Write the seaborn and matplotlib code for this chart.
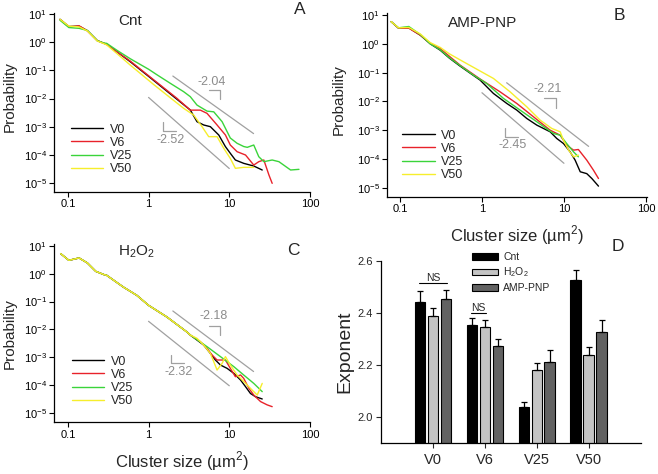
import numpy as np
import pandas as pd
import matplotlib
matplotlib.use("Agg")
import matplotlib.pyplot as plt
from matplotlib.patches import Patch
from matplotlib.ticker import NullLocator
from matplotlib.container import BarContainer
import seaborn as sns

sns.set_style("ticks")
plt.rcParams['font.family'] = ['Liberation Sans', 'DejaVu Sans']
plt.rcParams['axes.unicode_minus'] = False

# ------------------------------------------------------------------ data
series = ["V0", "V6", "V25", "V50"]

# Panel A : Cnt
a_v0_x = [0.080, 0.103, 0.138, 0.175, 0.232, 0.281, 0.303, 0.404, 0.592, 1.05, 2.05, 3.29, 3.98, 4.82, 5.83, 7.41, 8.96, 10.3, 11.9, 15.1, 20.1, 25.6]
a_v0_y = [6.5, 3.6, 3.7, 2.56, 1.13, 0.91, 0.84, 0.46, 0.204, 0.055, 0.0117, 0.00394, 0.00152, 0.00116, 0.00101, 0.000512, 0.000198, 0.000115, 6.65e-5, 5.06e-5, 4.07e-5, 2.94e-5]
a_v6_x = [0.080, 0.103, 0.138, 0.175, 0.232, 0.281, 0.303, 0.404, 0.592, 1.05, 2.25, 3.29, 4.38, 5.30, 7.06, 8.96, 10.3, 12.5, 15.9, 20.1, 23.2, 26.8, 31.0, 34.0]
a_v6_y = [6.3, 3.5, 3.8, 2.5, 1.13, 0.91, 0.84, 0.46, 0.215, 0.058, 0.0102, 0.0039, 0.0039, 0.0030, 0.00116, 0.000512, 0.000226, 0.000131, 0.0001, 4.4e-5, 5.8e-5, 6.65e-5, 1.95e-5, 9.9e-6]
a_v25_x = [0.080, 0.103, 0.138, 0.175, 0.232, 0.281, 0.303, 0.404, 0.592, 1.0, 1.27, 1.86, 2.72, 3.29, 3.98, 5.30, 6.42, 8.15, 10.3, 12.5, 15.1, 16.7, 20.1, 23.2, 26.8, 34.0, 41.2, 57.5, 73.0]
a_v25_y = [6.0, 3.3, 3.1, 2.6, 1.13, 0.93, 0.91, 0.52, 0.26, 0.11, 0.07, 0.0348, 0.0176, 0.0117, 0.0059, 0.0036, 0.0034, 0.00152, 0.0004, 0.00026, 0.0002, 0.000187, 0.000226, 8.7e-5, 5.8e-5, 6.65e-5, 5.8e-5, 2.94e-5, 3.1e-5]
a_v50_x = [0.080, 0.103, 0.138, 0.175, 0.232, 0.281, 0.303, 0.404, 0.592, 1.15, 1.86, 2.72, 3.62, 4.60, 5.56, 7.06, 8.55, 10.3, 11.9, 15.1, 20.1]
a_v50_y = [6.5, 3.7, 3.5, 2.5, 1.1, 0.88, 0.80, 0.40, 0.155, 0.032, 0.0107, 0.00452, 0.00262, 0.00101, 0.000447, 0.000447, 0.000172, 7.6e-5, 3.37e-5, 3.65e-5, 3.65e-5]

# Panel B : AMP-PNP
b_v0_x = [0.078, 0.096, 0.128, 0.177, 0.234, 0.31, 0.40, 0.54, 0.949, 1.38, 2.01, 2.66, 3.52, 4.67, 6.79, 8.18, 9.87, 11.9, 13.7, 15.8, 19.0, 21.9, 26.4]
b_v0_y = [5.9, 3.5, 3.6, 2.0, 1.0, 0.6, 0.32, 0.169, 0.055, 0.0189, 0.00849, 0.00499, 0.00256, 0.0015, 0.00088, 0.000515, 0.000345, 0.000177, 9.1e-5, 3.6e-5, 3.1e-5, 2.1e-5, 1.14e-5]
b_v6_x = [0.078, 0.096, 0.128, 0.177, 0.234, 0.31, 0.40, 0.54, 0.949, 1.66, 2.66, 4.25, 6.79, 9.0, 10.8, 13.1, 15.0, 19.0, 22.9, 26.4]
b_v6_y = [5.9, 3.5, 3.5, 2.0, 1.05, 0.68, 0.37, 0.183, 0.06, 0.0216, 0.00849, 0.00292, 0.001, 0.00067, 0.000302, 0.000203, 0.000214, 9.1e-5, 4.1e-5, 2.1e-5]
b_v25_x = [0.078, 0.096, 0.128, 0.177, 0.234, 0.31, 0.40, 0.55, 0.787, 1.14, 1.83, 2.92, 4.67, 7.45, 9.0, 10.8, 13.1, 15.0]
b_v25_y = [5.9, 3.6, 4.0, 2.1, 1.0, 0.62, 0.33, 0.17, 0.082, 0.0421, 0.0127, 0.00499, 0.00196, 0.00077, 0.00067, 0.000345, 0.000177, 0.000119]
b_v50_x = [0.078, 0.096, 0.128, 0.177, 0.234, 0.31, 0.40, 0.593, 1.38, 2.20, 3.52, 5.12, 7.11, 9.0, 9.87, 11.4, 13.1, 15.0]
b_v50_y = [5.9, 3.6, 3.7, 2.2, 1.1, 0.75, 0.45, 0.239, 0.0628, 0.0216, 0.00651, 0.00224, 0.00115, 0.00088, 0.00045, 0.000203, 0.000119, 0.000136]

# Panel C : H2O2
c_common_x = [0.0815, 0.103, 0.138, 0.175, 0.222, 0.281, 0.303, 0.489, 0.716, 1.0, 1.69, 2.99, 3.29]
c_common_y = [5.3, 3.05, 3.7, 2.44, 1.22, 0.93, 0.88, 0.33, 0.167, 0.073, 0.0277, 0.008, 0.0062]
c_v0_x = c_common_x + [4.82, 5.83, 6.73, 7.77, 9.40, 11.4, 13.8, 15.9, 18.3, 21.1, 25.6]
c_v0_y = c_common_y + [0.00272, 0.00136, 0.000784, 0.000518, 0.000393, 0.000259, 0.000149, 8.6e-5, 4.9e-5, 3.75e-5, 3.1e-5]
c_v6_x = c_common_x + [4.38, 5.30, 6.12, 7.06, 8.96, 10.3, 11.9, 13.8, 15.1, 17.5, 20.1, 24.4, 29.5, 34.0]
c_v6_y = c_common_y + [0.00359, 0.00207, 0.00119, 0.000784, 0.000784, 0.000393, 0.000197, 0.000226, 0.000171, 7.5e-5, 4.3e-5, 2.5e-5, 1.9e-5, 1.64e-5]
c_v25_x = c_common_x + [5.30, 7.77, 11.4, 15.1, 20.1, 25.6]
c_v25_y = c_common_y + [0.00237, 0.00104, 0.000451, 0.000226, 0.000113, 5.7e-5]
c_v50_x = c_common_x + [3.98, 4.82, 5.83, 6.42, 7.06, 8.15, 8.96, 10.3, 12.5, 15.9, 19.2, 22.2, 25.6]
c_v50_y = c_common_y + [0.00473, 0.00272, 0.00136, 0.000683, 0.000342, 0.000594, 0.00104, 0.000518, 0.000226, 0.000113, 6.5e-5, 4.3e-5, 0.000113]

# fitted power-law guide lines: slope, x start, y at start, x end
a_fit_slope = [-2.04, -2.52]
a_fit_x0 = [2.0, 1.0]
a_fit_y0 = [0.063, 0.011]
a_fit_x1 = [20.0, 10.0]
b_fit_slope = [-2.21, -2.45]
b_fit_x0 = [2.0, 1.0]
b_fit_y0 = [0.0445, 0.020]
b_fit_x1 = [20.0, 10.0]
c_fit_slope = [-2.18, -2.32]
c_fit_x0 = [2.0, 1.0]
c_fit_y0 = [0.0457, 0.0194]
c_fit_x1 = [20.0, 10.0]

# Panel D : exponents
groups = ["V0", "V6", "V25", "V50"]
conds = ["Cnt", "H2O2", "AMP-PNP"]
cnt_mean = [2.442, 2.353, 2.037, 2.526]
cnt_err = [0.041, 0.026, 0.019, 0.038]
h2o2_mean = [2.387, 2.346, 2.179, 2.237]
h2o2_err = [0.031, 0.026, 0.029, 0.032]
amp_mean = [2.453, 2.272, 2.212, 2.327]
amp_err = [0.034, 0.029, 0.044, 0.045]

# ------------------------------------------------------------------ style
line_colors = ["#000000", "#e8222a", "#3ad43a", "#f6ee2c"]
bar_colors = ["#000000", "#c4c4c4", "#626262"]
guide_gray = "#a0a0a0"
label_gray = "#8c8c8c"

W, H = 658, 474
fig = plt.figure(figsize=(W / 100, H / 100), dpi=100)


def rect(l, t, r, b):
    return [l / W, 1 - b / H, (r - l) / W, (b - t) / H]


axA = fig.add_axes(rect(54.3, 12.7, 310, 191.7))
axB = fig.add_axes(rect(387.3, 13.3, 647.3, 196.7))
axC = fig.add_axes(rect(54.3, 244.3, 310, 422))
axD = fig.add_axes(rect(380.7, 261, 641, 443))


def bracket(ax, xc, yc, kind):
    if kind == "upper":
        xs = [xc / 10 ** 0.14, xc, xc]
        ys = [yc, yc, yc / 10 ** 0.33]
    else:
        xs = [xc, xc, xc * 10 ** 0.16]
        ys = [yc * 10 ** 0.29, yc, yc]
    ax.plot(xs, ys, color=guide_gray, lw=0.9)


def line_panel(ax, xs_list, ys_list, slopes, x0s, y0s, x1s, lab_xy, corners,
               xlim, ylim, leg_anchor):
    frames = []
    for name, xs, ys in zip(series, xs_list, ys_list):
        frames.append(pd.DataFrame({"x": xs, "y": ys, "series": name}))
    df = pd.concat(frames, ignore_index=True)
    sns.lineplot(data=df, x="x", y="y", hue="series", hue_order=series,
                 palette=line_colors, sort=False, estimator=None, lw=1.0, ax=ax)
    for s, x0, y0, x1 in zip(slopes, x0s, y0s, x1s):
        xs = np.array([x0, x1])
        ax.plot(xs, y0 * (xs / x0) ** s, color=guide_gray, lw=0.9)
    for s, (tx, ty) in zip(slopes, lab_xy):
        ax.text(tx, ty, f"{s:.2f}", color=label_gray, fontsize=9,
                ha="center", va="center")
    bracket(ax, corners[0][0], corners[0][1], "upper")
    bracket(ax, corners[1][0], corners[1][1], "lower")
    ax.set_xscale("log")
    ax.set_yscale("log")
    ax.set_xlim(*xlim)
    ax.set_ylim(*ylim)
    ax.set_xticks([0.1, 1, 10, 100])
    ax.set_xticklabels(["0.1", "1", "10", "100"])
    ax.set_yticks([10.0 ** k for k in range(-5, 2)])
    ax.xaxis.set_minor_locator(NullLocator())
    ax.yaxis.set_minor_locator(NullLocator())
    ax.tick_params(axis="both", which="major", length=3.5, width=0.8,
                   labelsize=8, pad=2, colors="black")
    for sp in ["left", "bottom"]:
        ax.spines[sp].set_linewidth(0.9)
        ax.spines[sp].set_color("black")
    sns.despine(ax=ax)
    ax.set_xlabel("")
    ax.set_ylabel("Probability", fontsize=11)
    h, l = ax.get_legend_handles_labels()
    ax.legend(h, l, loc="upper left", bbox_to_anchor=leg_anchor, frameon=False,
              fontsize=9, handlelength=2.6, handletextpad=0.5, labelspacing=0.1,
              borderpad=0, borderaxespad=0)


line_panel(axA, [a_v0_x, a_v6_x, a_v25_x, a_v50_x], [a_v0_y, a_v6_y, a_v25_y, a_v50_y],
           a_fit_slope, a_fit_x0, a_fit_y0, a_fit_x1,
           [(6.1, 0.040), (1.89, 0.00034)], [(7.77, 0.0202), (1.53, 0.00073)],
           (0.068, 100), (5.0e-6, 11.1), (0.065, 0.381))
line_panel(axB, [b_v0_x, b_v6_x, b_v25_x, b_v50_x], [b_v0_y, b_v6_y, b_v25_y, b_v50_y],
           b_fit_slope, b_fit_x0, b_fit_y0, b_fit_x1,
           [(6.3, 0.0263), (2.35, 0.0003)], [(7.96, 0.0127), (1.90, 0.00059)],
           (0.07, 104), (4.9e-6, 11.5), (0.058, 0.366))
line_panel(axC, [c_v0_x, c_v6_x, c_v25_x, c_v50_x], [c_v0_y, c_v6_y, c_v25_y, c_v50_y],
           c_fit_slope, c_fit_x0, c_fit_y0, c_fit_x1,
           [(6.4, 0.0295), (2.36, 0.00029)], [(7.77, 0.0128), (1.89, 0.00063)],
           (0.068, 100), (4.6e-6, 11.5), (0.068, 0.374))

xlab = "Cluster size (\u00b5m$^{\\mathdefault{2}}$)"
axB.set_xlabel(xlab, fontsize=12)
axC.set_xlabel(xlab, fontsize=12)
axA.yaxis.set_label_coords(-0.146, 0.53)
axB.yaxis.set_label_coords(-0.159, 0.527)
axC.yaxis.set_label_coords(-0.146, 0.497)
axB.xaxis.set_label_coords(0.5, -0.143)
axC.xaxis.set_label_coords(0.498, -0.152)

# ------------------------------------------------------------------ panel D
df_bar = pd.DataFrame({
    "group": groups * 3,
    "cond": [c for c in conds for _ in groups],
    "value": cnt_mean + h2o2_mean + amp_mean,
})
sns.barplot(data=df_bar, x="group", y="value", hue="cond", order=groups,
             hue_order=conds, palette=bar_colors, width=0.75, gap=0.22,
             edgecolor="black", linewidth=0.8, errorbar=None, legend=False, ax=axD)
bar_conts = [c for c in axD.containers if isinstance(c, BarContainer)]
centers = [[b.get_x() + b.get_width() / 2 for b in cont] for cont in bar_conts]
tops = [[b.get_height() for b in cont] for cont in bar_conts]
for xs, ys, errs in zip(centers, tops, [cnt_err, h2o2_err, amp_err]):
    axD.errorbar(xs, ys, yerr=[np.zeros(len(errs)), errs], fmt="none",
                 ecolor="black", elinewidth=0.9, capsize=2.5, capthick=0.9)

ns_specs = [(0, 0, 2, 2.514), (1, 0, 1, 2.399)]
for gi, c1, c2, yv in ns_specs:
    xa = centers[c1][gi] - 0.015
    xb = centers[c2][gi] + 0.025
    axD.plot([xa, xb], [yv, yv], color="black", lw=0.8)
    axD.text((xa + xb) / 2, yv + 0.019, "NS", ha="center", va="center", fontsize=7.5)

axD.set_xlim(-1.0, 4.01)
axD.set_ylim(1.9, 2.6)
axD.set_yticks([2.0, 2.2, 2.4, 2.6])
axD.set_yticklabels(["2.0", "2.2", "2.4", "2.6"])
axD.tick_params(axis="y", length=3.5, width=0.8, labelsize=8, pad=2)
axD.tick_params(axis="x", length=3.5, width=0.8, labelsize=10.5, pad=4)
for sp in ["left", "bottom"]:
    axD.spines[sp].set_linewidth(0.9)
    axD.spines[sp].set_color("black")
sns.despine(ax=axD)
axD.set_xlabel("")
axD.set_ylabel("Exponent", fontsize=14)
axD.yaxis.set_label_coords(-0.106, 0.5)
leg_handles = [Patch(facecolor=c, edgecolor="black", lw=0.8) for c in bar_colors]
leg_labels = ["Cnt", "H$_{\\mathdefault{2}}$O$_{\\mathdefault{2}}$", "AMP-PNP"]
axD.legend(leg_handles, leg_labels, loc="upper left", bbox_to_anchor=(0.35, 1.05),
           frameon=False, fontsize=7.5, handlelength=2.5, handleheight=0.6,
           handletextpad=0.5, labelspacing=0.35, borderpad=0, borderaxespad=0)

# ------------------------------------------------------------------ titles & letters
def ftext(x, y, s, **kw):
    fig.text(x / W, 1 - y / H, s, ha="center", va="center", **kw)


ftext(130, 21, "Cnt", fontsize=11)
ftext(482.3, 23.3, "AMP-PNP", fontsize=11)
ftext(136.7, 252, "H$_{\\mathdefault{2}}$O$_{\\mathdefault{2}}$", fontsize=11)
ftext(300, 9.5, "A", fontsize=12.5)
ftext(619, 15, "B", fontsize=12.5)
ftext(293, 250.3, "C", fontsize=12.5)
ftext(618.3, 247, "D", fontsize=12.5)

fig.savefig("out.png", dpi=100)
